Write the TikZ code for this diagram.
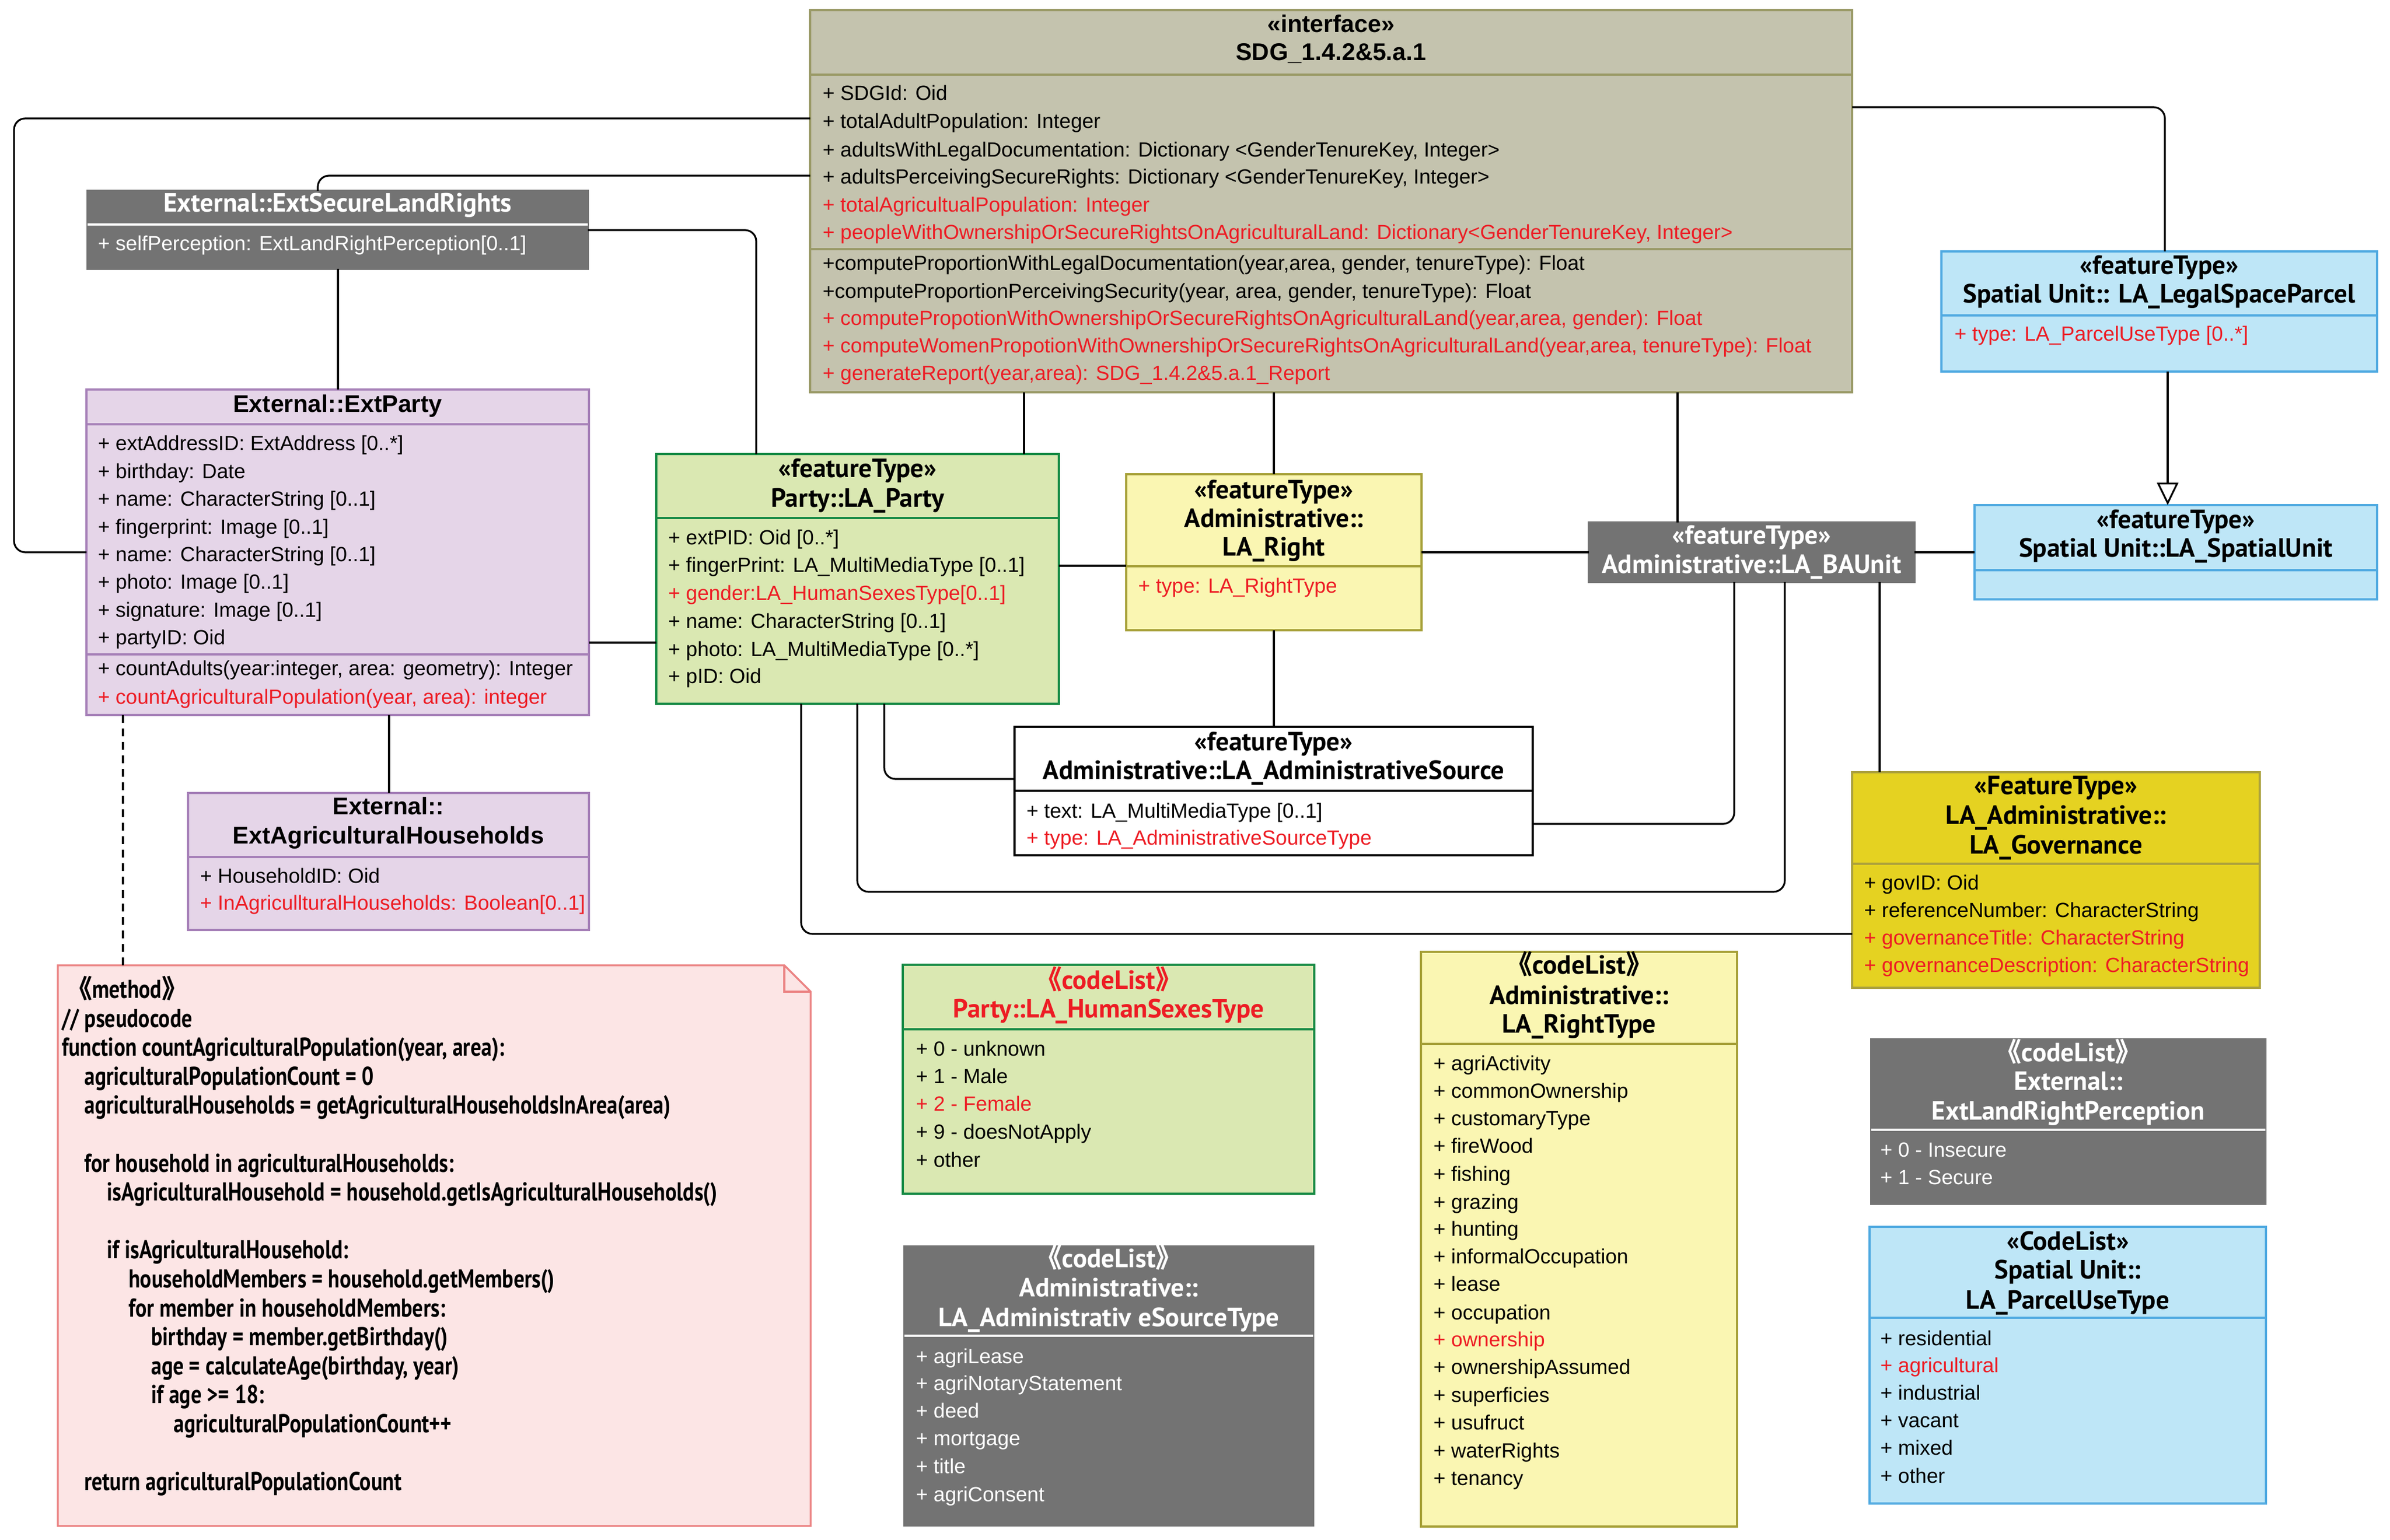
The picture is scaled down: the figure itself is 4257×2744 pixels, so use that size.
\documentclass[tikz,border=0pt]{standalone}
\usepackage{fontspec}
\setmainfont{Liberation Sans}
\newfontfamily\hdfont{PT Sans}
\newfontfamily\cjk{Noto Sans CJK SC}
\newfontfamily\notefont{PT Sans}[FakeStretch=0.82]
\usetikzlibrary{arrows.meta,fit}
\definecolor{grayfill}{HTML}{737373}
\definecolor{sdgfill}{HTML}{C4C3AE}
\definecolor{sdgline}{HTML}{999966}
\definecolor{purfill}{HTML}{E5D5E8}
\definecolor{purline}{HTML}{A680B8}
\definecolor{grnfill}{HTML}{DAE8B2}
\definecolor{grnline}{HTML}{168A45}
\definecolor{yelfill}{HTML}{FAF6B2}
\definecolor{yelline}{HTML}{A6A038}
\definecolor{govfill}{HTML}{E5D221}
\definecolor{govline}{HTML}{AAA03C}
\definecolor{blufill}{HTML}{BEE6F7}
\definecolor{bluline}{HTML}{50AAE1}
\definecolor{notefill}{HTML}{FCE5E5}
\definecolor{noteline}{HTML}{EB8282}
\definecolor{redtxt}{HTML}{ED1C24}
\newcounter{tn}
\newcommand\putt[4][]{\stepcounter{tn}\node[#1] (t\arabic{tn}) at (#2,#3) {#4};}
\newcommand\ubox[6]{\node[ubox,#6,fit={(#2,#3)(#4,#5)}] (#1) {};}
\newcommand\cjkl{{\cjk\bfseries 《}}
\newcommand\cjkr{{\cjk\bfseries 》}}
\tikzset{
  ubox/.style={draw, line width=1.6pt, inner sep=0pt, outer sep=0pt},
  sepl/.style={line width=1.6pt},
  attr/.style={anchor=west, inner sep=0pt, text height=1.1em, text depth=0pt, font=\fontsize{18.3}{22}\selectfont},
  hd/.style={anchor=center, inner sep=0pt, text height=1.1em, text depth=0pt, font=\fontsize{23.5}{27}\selectfont\hdfont\bfseries},
  ahd/.style={anchor=center, inner sep=0pt, text height=1.15em, text depth=0pt, font=\fontsize{21.5}{26}\selectfont\bfseries},
  nt/.style={anchor=west, inner sep=0pt, text height=1.3em, text depth=0pt, font=\fontsize{23}{27}\selectfont\notefont\bfseries},
  conn/.style={line width=1.6pt, rounded corners=10pt},
}
\begin{document}
\begin{tikzpicture}[x=0.5pt,y=-0.5pt]
\useasboundingbox (0,0) rectangle (4257,2744);
\fill[white] (0,0) rectangle (4257,2744);

% ---------- boxes ----------
\ubox{sdg}{1443}{18}{3299}{699}{fill=sdgfill, draw=sdgline}
\draw[sepl, sdgline] (1443,133) -- (3299,133);
\draw[sepl, sdgline] (1443,444) -- (3299,444);

\ubox{extsecure}{156}{340}{1047}{479}{fill=grayfill, draw=grayfill}
\draw[white, line width=2pt] (156,400) -- (1047,400);

\ubox{extparty}{154}{694}{1049}{1274}{fill=purfill, draw=purline}
\draw[sepl, purline] (154,756) -- (1049,756);
\draw[sepl, purline] (154,1166) -- (1049,1166);

\ubox{households}{335}{1413}{1049}{1657}{fill=purfill, draw=purline}
\draw[sepl, purline] (335,1527) -- (1049,1527);

\ubox{laparty}{1169}{809}{1886}{1254}{fill=grnfill, draw=grnline}
\draw[sepl, grnline] (1169,923) -- (1886,923);

\ubox{laright}{2006}{845}{2532}{1123}{fill=yelfill, draw=yelline}
\draw[sepl, yelline] (2006,1009) -- (2532,1009);

\ubox{adminsource}{1807}{1295}{2730}{1524}{fill=white, draw=black, line width=2.2pt}
\draw[line width=2.2pt] (1807,1409) -- (2730,1409);

\ubox{baunit}{2830}{931}{3410}{1037}{fill=grayfill, draw=grayfill}

\ubox{legalspace}{3458}{448}{4234}{662}{fill=blufill, draw=bluline}
\draw[sepl, bluline] (3458,562) -- (4234,562);

\ubox{spatialunit}{3517}{900}{4234}{1068}{fill=blufill, draw=bluline}
\draw[sepl, bluline] (3517,1016) -- (4234,1016);

\ubox{governance}{3299}{1376}{4025}{1760}{fill=govfill, draw=govline}
\draw[sepl, govline] (3299,1539) -- (4025,1539);

\ubox{humansexes}{1608}{1719}{2341}{2127}{fill=grnfill, draw=grnline}
\draw[sepl, grnline] (1608,1834) -- (2341,1834);

\ubox{adminsourcetype}{1611}{2221}{2339}{2718}{fill=grayfill, draw=grayfill}
\draw[white, line width=2pt] (1611,2380) -- (2339,2380);

\ubox{righttype}{2531}{1696}{3094}{2720}{fill=yelfill, draw=yelline}
\draw[sepl, yelline] (2531,1860) -- (3094,1860);

\ubox{extlrp}{3333}{1852}{4035}{2145}{fill=grayfill, draw=grayfill}
\draw[white, line width=2pt] (3333,2013) -- (4035,2013);

\ubox{parceluse}{3330}{2186}{4036}{2679}{fill=blufill, draw=bluline}
\draw[sepl, bluline] (3330,2348) -- (4036,2348);

% note
\draw[line width=1.6pt, draw=noteline, fill=notefill] (103,1720) -- (1397,1720) -- (1444,1767) -- (1444,2719) -- (103,2719) -- cycle;
\draw[line width=1.6pt, draw=noteline] (1397,1720) -- (1397,1767) -- (1444,1767);
\node[fit={(103,1720)(1444,2719)}, inner sep=0pt, outer sep=0pt] (note) {};

% ---------- connectors ----------
\draw[conn] (extparty.west |- 0,984) -- (25,984) -- (25,211) -- (sdg.west |- 0,211);
\draw[conn] (extsecure.north -| 566,0) -- (566,313) -- (sdg.west |- 0,313);
\draw[conn] (extsecure.east |- 0,410) -- (1347,410) -- (laparty.north -| 1347,0);
\draw[conn] (extsecure.south -| 602,0) -- (extparty.north -| 602,0);
\draw[conn] (extparty.east |- 0,1145) -- (laparty.west |- 0,1145);
\draw[conn, dash pattern=on 7pt off 5pt] (extparty.south -| 219,0) -- (note.north -| 219,0);
\draw[conn] (extparty.south -| 693,0) -- (households.north -| 693,0);
\draw[conn] (sdg.south -| 1824,0) -- (laparty.north -| 1824,0);
\draw[conn] (sdg.south -| 2269,0) -- (laright.north);
\draw[conn] (sdg.south -| 2988,0) -- (baunit.north -| 2988,0);
\draw[conn] (sdg.east |- 0,191) -- (3856,191) -- (legalspace.north -| 3856,0);
\draw[line width=1.6pt, -{Triangle[length=20pt,width=19pt,fill=white]}] (legalspace.south -| 3861,0) -- (spatialunit.north -| 3861,0);
\draw[conn] (laparty.east |- 0,1008) -- (laright.west |- 0,1008);
\draw[conn] (laright.east |- 0,984) -- (baunit.west |- 0,984);
\draw[conn] (baunit.east |- 0,984) -- (spatialunit.west |- 0,984);
\draw[conn] (laright.south) -- (adminsource.north -| laright.south);
\draw[conn] (laparty.south -| 1575,0) -- (1575,1388) -- (adminsource.west |- 0,1388);
\draw[conn] (adminsource.east |- 0,1468) -- (3089,1468) -- (baunit.south -| 3089,0);
\draw[conn] (laparty.south -| 1527,0) -- (1527,1589) -- (3179,1589) -- (baunit.south -| 3179,0);
\draw[conn] (laparty.south -| 1427,0) -- (1427,1664) -- (governance.west |- 0,1664);
\draw[conn] (baunit.south -| 3348,0) -- (governance.north -| 3348,0);

% ---------- SDG texts ----------
\putt[ahd]{2371}{46}{«interface»}
\putt[ahd]{2371}{96}{SDG\_1.4.2\&5.a.1}
\putt[attr]{1465}{168}{+ SDGId: Oid}
\putt[attr]{1465}{218}{+ totalAdultPopulation: Integer}
\putt[attr]{1465}{269}{+ adultsWithLegalDocumentation: Dictionary <GenderTenureKey, Integer>}
\putt[attr]{1465}{317}{+ adultsPerceivingSecureRights: Dictionary <GenderTenureKey, Integer>}
\putt[attr,redtxt]{1465}{367}{+ totalAgricultualPopulation: Integer}
\putt[attr,redtxt]{1465}{416}{+ peopleWithOwnershipOrSecureRightsOnAgriculturalLand: Dictionary<GenderTenureKey, Integer>}
\putt[attr]{1465}{471}{+computeProportionWithLegalDocumentation(year,area, gender, tenureType): Float}
\putt[attr]{1465}{521}{+computeProportionPerceivingSecurity(year, area, gender, tenureType): Float}
\putt[attr,redtxt]{1465}{569}{+ computePropotionWithOwnershipOrSecureRightsOnAgriculturalLand(year,area, gender): Float}
\putt[attr,redtxt]{1465}{618}{+ computeWomenPropotionWithOwnershipOrSecureRightsOnAgriculturalLand(year,area, tenureType): Float}
\putt[attr,redtxt]{1465}{666}{+ generateReport(year,area): SDG\_1.4.2\&5.a.1\_Report}

% ExtSecureLandRights
\putt[hd,white]{601.5}{367}{External::ExtSecureLandRights}
\putt[attr,white]{174}{436}{+ selfPerception: ExtLandRightPerception[0..1]}

% ExtParty
\putt[ahd]{601.5}{723}{External::ExtParty}
\putt[attr]{174}{791}{+ extAddressID: ExtAddress [0..*]}
\putt[attr]{174}{841}{+ birthday: Date}
\putt[attr]{174}{890}{+ name: CharacterString [0..1]}
\putt[attr]{174}{940}{+ fingerprint: Image [0..1]}
\putt[attr]{174}{989}{+ name: CharacterString [0..1]}
\putt[attr]{174}{1038}{+ photo: Image [0..1]}
\putt[attr]{174}{1088}{+ signature: Image [0..1]}
\putt[attr]{174}{1137}{+ partyID: Oid}
\putt[attr]{174}{1192}{+ countAdults(year:integer, area: geometry): Integer}
\putt[attr,redtxt]{174}{1243}{+ countAgriculturalPopulation(year, area): integer}

% Households
\putt[ahd]{692}{1440}{External::}
\putt[ahd]{692}{1492}{ExtAgriculturalHouseholds}
\putt[attr]{356}{1562}{+ HouseholdID: Oid}
\putt[attr,redtxt]{356}{1610}{+ InAgricullturalHouseholds: Boolean[0..1]}

% LA_Party
\putt[hd]{1527.5}{839}{«featureType»}
\putt[hd]{1527.5}{892}{Party::LA\_Party}
\putt[attr]{1190}{959}{+ extPID: Oid [0..*]}
\putt[attr]{1190}{1008}{+ fingerPrint: LA\_MultiMediaType [0..1]}
\putt[attr,redtxt]{1190}{1058}{+ gender:LA\_HumanSexesType[0..1]}
\putt[attr]{1190}{1108}{+ name: CharacterString [0..1]}
\putt[attr]{1190}{1158}{+ photo: LA\_MultiMediaType [0..*]}
\putt[attr]{1190}{1206}{+ pID: Oid}

% LA_Right
\putt[hd]{2269}{877}{«featureType»}
\putt[hd]{2269}{928}{Administrative::}
\putt[hd]{2269}{979}{LA\_Right}
\putt[attr,redtxt]{2027}{1045}{+ type: LA\_RightType}

% AdminSource
\putt[hd]{2268.5}{1326}{«featureType»}
\putt[hd]{2268.5}{1377}{Administrative::LA\_AdministrativeSource}
\putt[attr]{1828}{1446}{+ text: LA\_MultiMediaType [0..1]}
\putt[attr,redtxt]{1828}{1494}{+ type: LA\_AdministrativeSourceType}

% BAUnit
\putt[hd,white]{3120}{958}{«featureType»}
\putt[hd,white]{3120}{1010}{Administrative::LA\_BAUnit}

% LegalSpaceParcel
\putt[hd]{3846}{478}{«featureType»}
\putt[hd]{3846}{529}{Spatial Unit:: LA\_LegalSpaceParcel}
\putt[attr,redtxt]{3481}{597}{+ type: LA\_ParcelUseType [0..*]}

% SpatialUnit
\putt[hd]{3875.5}{930}{«featureType»}
\putt[hd]{3875.5}{981}{Spatial Unit::LA\_SpatialUnit}

% Governance
\putt[hd]{3662}{1404}{«FeatureType»}
\putt[hd]{3662}{1457}{LA\_Administrative::}
\putt[hd]{3662}{1510}{LA\_Governance}
\putt[attr]{3320}{1574}{+ govID: Oid}
\putt[attr]{3320}{1623}{+ referenceNumber: CharacterString}
\putt[attr,redtxt]{3320}{1672}{+ governanceTitle: CharacterString}
\putt[attr,redtxt]{3320}{1721}{+ governanceDescription: CharacterString}

% HumanSexesType
\putt[hd,redtxt]{1974.5}{1751}{\cjkl codeList\cjkr}
\putt[hd,redtxt]{1974.5}{1802}{Party::LA\_HumanSexesType}
\putt[attr]{1631}{1870}{+ 0 - unknown}
\putt[attr]{1631}{1919}{+ 1 - Male}
\putt[attr,redtxt]{1631}{1968}{+ 2 - Female}
\putt[attr]{1631}{2018}{+ 9 - doesNotApply}
\putt[attr]{1631}{2068}{+ other}

% AdminSourceType
\putt[hd,white]{1975}{2247}{\cjkl codeList\cjkr}
\putt[hd,white]{1975}{2299}{Administrative::}
\putt[hd,white]{1975}{2352}{LA\_Administrativ eSourceType}
\putt[attr,white]{1631}{2418}{+ agriLease}
\putt[attr,white]{1631}{2466}{+ agriNotaryStatement}
\putt[attr,white]{1631}{2515}{+ deed}
\putt[attr,white]{1631}{2564}{+ mortgage}
\putt[attr,white]{1631}{2614}{+ title}
\putt[attr,white]{1631}{2664}{+ agriConsent}

% RightType
\putt[hd]{2812.5}{1724}{\cjkl codeList\cjkr}
\putt[hd]{2812.5}{1778}{Administrative::}
\putt[hd]{2812.5}{1829}{LA\_RightType}
\putt[attr]{2553}{1896}{+ agriActivity}
\putt[attr]{2553}{1945}{+ commonOwnership}
\putt[attr]{2553}{1994}{+ customaryType}
\putt[attr]{2553}{2043}{+ fireWood}
\putt[attr]{2553}{2093}{+ fishing}
\putt[attr]{2553}{2143}{+ grazing}
\putt[attr]{2553}{2191}{+ hunting}
\putt[attr]{2553}{2240}{+ informalOccupation}
\putt[attr]{2553}{2289}{+ lease}
\putt[attr]{2553}{2340}{+ occupation}
\putt[attr,redtxt]{2553}{2388}{+ ownership}
\putt[attr]{2553}{2437}{+ ownershipAssumed}
\putt[attr]{2553}{2487}{+ superficies}
\putt[attr]{2553}{2536}{+ usufruct}
\putt[attr]{2553}{2586}{+ waterRights}
\putt[attr]{2553}{2635}{+ tenancy}

% ExtLandRightPerception
\putt[hd,white]{3684}{1880}{\cjkl codeList\cjkr}
\putt[hd,white]{3684}{1931}{External::}
\putt[hd,white]{3684}{1984}{ExtLandRightPerception}
\putt[attr,white]{3349}{2050}{+ 0 - Insecure}
\putt[attr,white]{3349}{2099}{+ 1 - Secure}

% ParcelUseType
\putt[hd]{3683}{2216}{«CodeList»}
\putt[hd]{3683}{2267}{Spatial Unit::}
\putt[hd]{3683}{2321}{LA\_ParcelUseType}
\putt[attr]{3349}{2386}{+ residential}
\putt[attr,redtxt]{3349}{2434}{+ agricultural}
\putt[attr]{3349}{2483}{+ industrial}
\putt[attr]{3349}{2532}{+ vacant}
\putt[attr]{3349}{2581}{+ mixed}
\putt[attr]{3349}{2631}{+ other}

% Note text
\putt[nt]{118}{1765}{\cjkl method\cjkr}
\putt[nt]{110}{1817}{// pseudocode}
\putt[nt]{110}{1868}{function countAgriculturalPopulation(year, area):}
\putt[nt]{150}{1920}{agriculturalPopulationCount = 0}
\putt[nt]{150}{1971}{agriculturalHouseholds = getAgriculturalHouseholdsInArea(area)}
\putt[nt]{150}{2075}{for household in agriculturalHouseholds:}
\putt[nt]{190}{2126}{isAgriculturalHousehold = household.getIsAgriculturalHouseholds()}
\putt[nt]{190}{2229}{if isAgriculturalHousehold:}
\putt[nt]{229}{2281}{householdMembers = household.getMembers()}
\putt[nt]{229}{2333}{for member in householdMembers:}
\putt[nt]{269}{2384}{birthday = member.getBirthday()}
\putt[nt]{269}{2436}{age = calculateAge(birthday, year)}
\putt[nt]{269}{2487}{if age >= 18:}
\putt[nt]{309}{2539}{agriculturalPopulationCount++}
\putt[nt]{150}{2642}{return agriculturalPopulationCount}
\end{tikzpicture}
\end{document}
